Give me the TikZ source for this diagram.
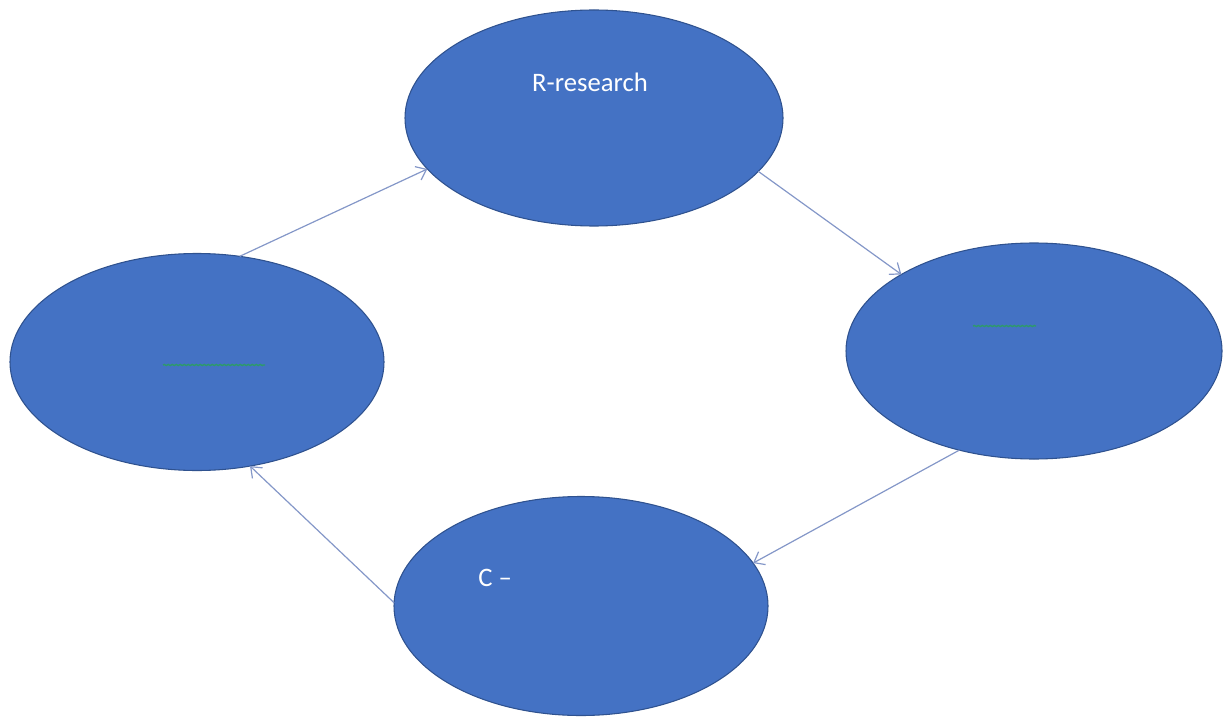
\documentclass[tikz,border=0pt]{standalone}
\usepackage{fontspec}
\setmainfont{Carlito}
\usetikzlibrary{shapes.geometric,arrows.meta,decorations.pathmorphing}
\definecolor{ellfill}{HTML}{4472C4}
\definecolor{elledge}{HTML}{2F528F}
\definecolor{arrcol}{HTML}{8497C8}
\definecolor{squig}{HTML}{2E9A6A}
\begin{document}
\begin{tikzpicture}[x=0.75pt,y=-0.75pt,
  blob/.style={ellipse,fill=ellfill,draw=elledge,line width=0.8pt,inner sep=0pt,outer sep=0pt},
  link/.style={draw=arrcol,line width=0.9pt,-{Straight Barb[length=7pt,width=11pt,line width=0.9pt]}},
  lbl/.style={text=white,font=\fontsize{20}{24}\selectfont,inner sep=0pt},
  wavy/.style={draw=squig,line width=1pt,decorate,decoration={snake,amplitude=0.4pt,segment length=3pt}}]
\useasboundingbox (0,0) rectangle (1226,727);
\node[blob,minimum width=378*0.75pt,minimum height=216*0.75pt] (top) at (594,118) {};
\node[blob,minimum width=376*0.75pt,minimum height=216*0.75pt] (right) at (1034,351) {};
\node[blob,minimum width=374*0.75pt,minimum height=217*0.75pt] (left) at (197,362) {};
\node[blob,minimum width=374*0.75pt,minimum height=219*0.75pt] (bottom) at (581,606) {};
\node[lbl] (rtext) at (590,82) {R-research};
\node[lbl,anchor=west] (ctext) at (478,578) {C –};
\draw[wavy] (163,365) -- (265,365);
\draw[wavy] (973,326) -- (1036,326);
\draw[link] (left.68) -- (top.197.6);
\draw[link] (top.342.6) -- (right.150.4);
\draw[link] (right.233) -- (bottom.14.4);
\draw[link] (bottom.179.4) -- (left.297.4);
\end{tikzpicture}
\end{document}
